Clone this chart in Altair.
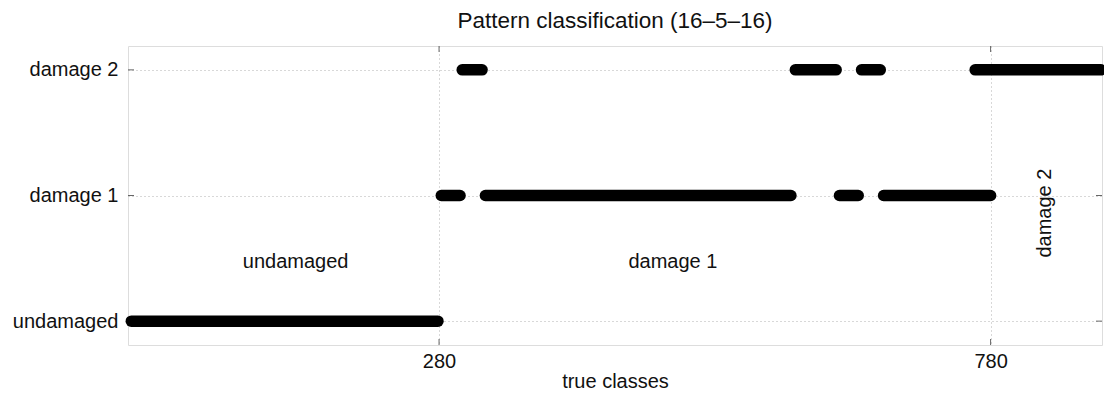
import altair as alt
import pandas as pd

# Class levels on the y axis (1 = undamaged, 2 = damage 1, 3 = damage 2)
class_names = ["undamaged", "damage 1", "damage 2"]
class_levels = [1, 2, 3]

# Runs of consecutive samples assigned to the same class: start, end, predicted level
run_start = [1, 282, 322, 643, 683, 301, 603, 663, 766]
run_end = [279, 299, 599, 660, 780, 319, 640, 680, 880]
run_level = [1, 2, 2, 2, 2, 3, 3, 3, 3]

# Boundaries between the true classes
boundaries = [280, 780]

# Region labels for the true classes
region_text = ["undamaged", "damage 1", "damage 2"]
region_x = [150, 492, 829]
region_y = [1.47, 1.47, 1.86]
region_angle = [0, 0, 270]

X_DOMAIN = [-2, 881]
Y_DOMAIN = [0.81, 3.19]
FONT = "Liberation Sans"
FS = 20

runs = pd.DataFrame({"start": run_start, "end": run_end, "level": run_level})
regions = pd.DataFrame({"text": region_text, "x": region_x, "y": region_y, "angle": region_angle})
xt = pd.DataFrame({"x": boundaries})
yt = pd.DataFrame({"y": class_levels})

label_expr = " : ".join(
    f"datum.value == {lv} ? '{nm}'" for lv, nm in zip(class_levels, class_names)
) + " : ''"

xscale = alt.Scale(domain=X_DOMAIN, nice=False, zero=False)
yscale = alt.Scale(domain=Y_DOMAIN, nice=False, zero=False)

x_axis = alt.Axis(
    values=boundaries, title="true classes", ticks=False, domain=False,
    grid=True, gridDash=[1, 3], gridColor="#b0b0b0", gridWidth=1,
    labelFont=FONT, labelFontSize=FS, labelColor="#111", labelPadding=6,
    titleFont=FONT, titleFontSize=FS, titleFontWeight="normal", titleColor="#111",
    titlePadding=0,
)
y_axis = alt.Axis(
    values=class_levels, labelExpr=label_expr, title=None, ticks=False, domain=False,
    grid=True, gridDash=[1, 3], gridColor="#b0b0b0", gridWidth=1,
    labelFont=FONT, labelFontSize=FS, labelColor="#111", labelPadding=10,
)

segments = alt.Chart(runs).mark_rule(strokeWidth=11.5, strokeCap="round", color="black").encode(
    x=alt.X("start:Q", scale=xscale, axis=x_axis),
    x2="end:Q",
    y=alt.Y("level:Q", scale=yscale, axis=y_axis),
)

labels = alt.Chart(regions).mark_text(font=FONT, fontSize=FS, color="#111").encode(
    x=alt.X("x:Q", scale=xscale),
    y=alt.Y("y:Q", scale=yscale),
    text="text:N",
    angle=alt.Angle("angle:Q", scale=None),
)

tick_style = dict(color="#666", strokeWidth=1)
bottom_ticks = alt.Chart(xt).mark_rule(**tick_style).encode(
    x=alt.X("x:Q", scale=xscale), y=alt.value(299), y2=alt.value(293))
top_ticks = alt.Chart(xt).mark_rule(**tick_style).encode(
    x=alt.X("x:Q", scale=xscale), y=alt.value(0), y2=alt.value(6))
left_ticks = alt.Chart(yt).mark_rule(**tick_style).encode(
    y=alt.Y("y:Q", scale=yscale), x=alt.value(0), x2=alt.value(6))
right_ticks = alt.Chart(yt).mark_rule(**tick_style).encode(
    y=alt.Y("y:Q", scale=yscale), x=alt.value(974), x2=alt.value(968))

chart = alt.layer(
    bottom_ticks, top_ticks, left_ticks, right_ticks, segments, labels
).properties(
    width=974,
    height=299,
    title=alt.TitleParams(
        "Pattern classification (16–5–16)", font=FONT, fontSize=22.5,
        fontWeight="normal", color="#111", anchor="middle", offset=13,
    ),
    autosize=alt.AutoSizeParams(type="none"),
    padding={"left": 128, "top": 46, "right": 2, "bottom": 49},
).configure_view(
    stroke="#6e6e6e", strokeWidth=1.2
).configure(background="white")

chart.save("out.html", embed_options={"renderer": "svg", "actions": False})
